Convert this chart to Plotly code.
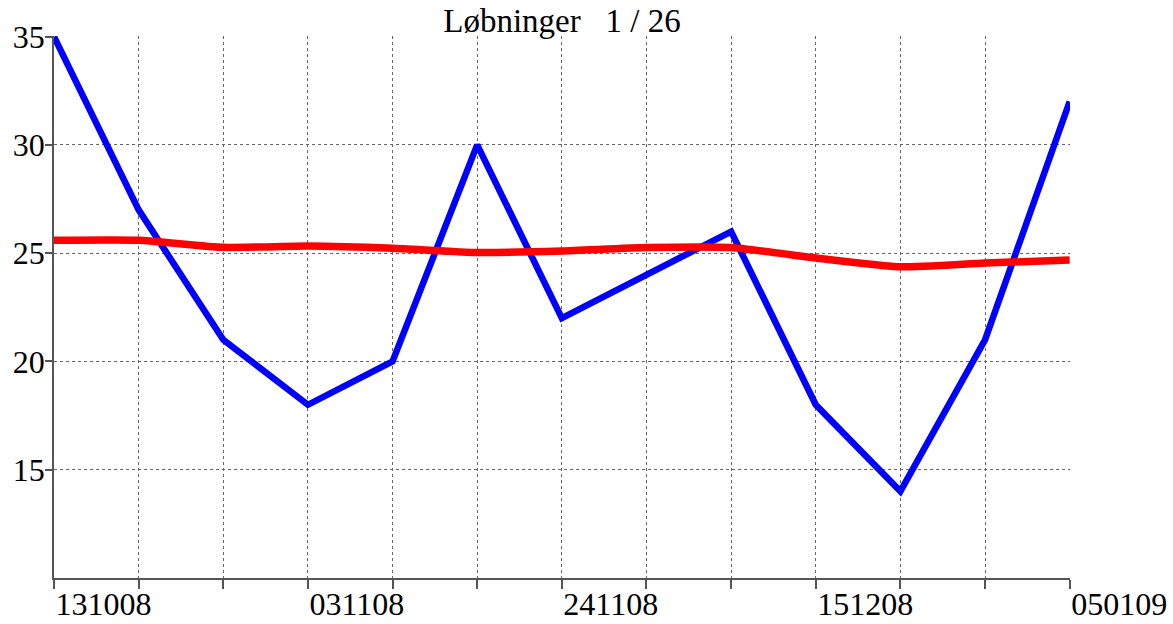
import plotly.graph_objects as go

dates = ["131008", "201008", "271008", "031108", "101108", "171108", "241108",
         "011208", "081208", "151208", "221208", "291208", "050109"]
runs = [35, 27, 21, 18, 20, 30, 22, 24, 26, 18, 14, 21, 32]
trend = [25.6, 25.6, 25.27, 25.33, 25.23, 25.03, 25.1, 25.26, 25.26, 24.78, 24.37, 24.55, 24.68]
label_every = 3
tick_text = [d if i % label_every == 0 else "" for i, d in enumerate(dates)]
y_ticks = [15, 20, 25, 30, 35]
title_text = "Løbninger\u00a0\u00a0\u00a01 / 26"

FONT = "Liberation Serif, Times New Roman, serif"

W, H = 1173, 624

fig = go.Figure()
fig.add_trace(go.Scatter(x=dates, y=runs, mode="lines",
                         line=dict(color="#0000FF", width=6.5), showlegend=False))
fig.add_trace(go.Scatter(x=dates, y=trend, mode="lines",
                         line=dict(color="#FF0000", width=7.5, shape="spline", smoothing=0.5),
                         showlegend=False))

fig.update_layout(
    width=W, height=H,
    margin=dict(l=54, r=103, t=36, b=46, autoexpand=False),
    paper_bgcolor="white", plot_bgcolor="white",
    font=dict(family=FONT, size=32, color="black"),
    title=dict(text=title_text, x=(54 + 1070) / 2 / W, xanchor="center",
               y=1 - 20 / H, yanchor="middle", yref="container",
               font=dict(family=FONT, size=33, color="black")),
)
fig.update_xaxes(
    type="category", range=[0, len(dates) - 1 + 0.004], automargin=False,
    tickmode="array", tickvals=dates, ticktext=tick_text,
    ticklabelposition="outside right", ticklabelstandoff=-3,
    ticks="outside", ticklen=9, tickcolor="#555", tickwidth=1.5,
    showline=True, linecolor="#555", linewidth=1.5,
    showgrid=True, gridcolor="#666", griddash="dot", gridwidth=1,
    zeroline=False,
)
fig.update_yaxes(
    range=[10, 35.03], automargin=False, tickmode="array", tickvals=y_ticks,
    ticks="outside", ticklen=7, tickcolor="#555", tickwidth=1.5,
    showline=True, linecolor="#555", linewidth=1.5,
    showgrid=True, gridcolor="#666", griddash="dot", gridwidth=1,
    zeroline=False, ticklabelstandoff=-6,
)

fig.write_html("out.html", config={"displayModeBar": False},
               post_script="document.body.style.margin='0';")
